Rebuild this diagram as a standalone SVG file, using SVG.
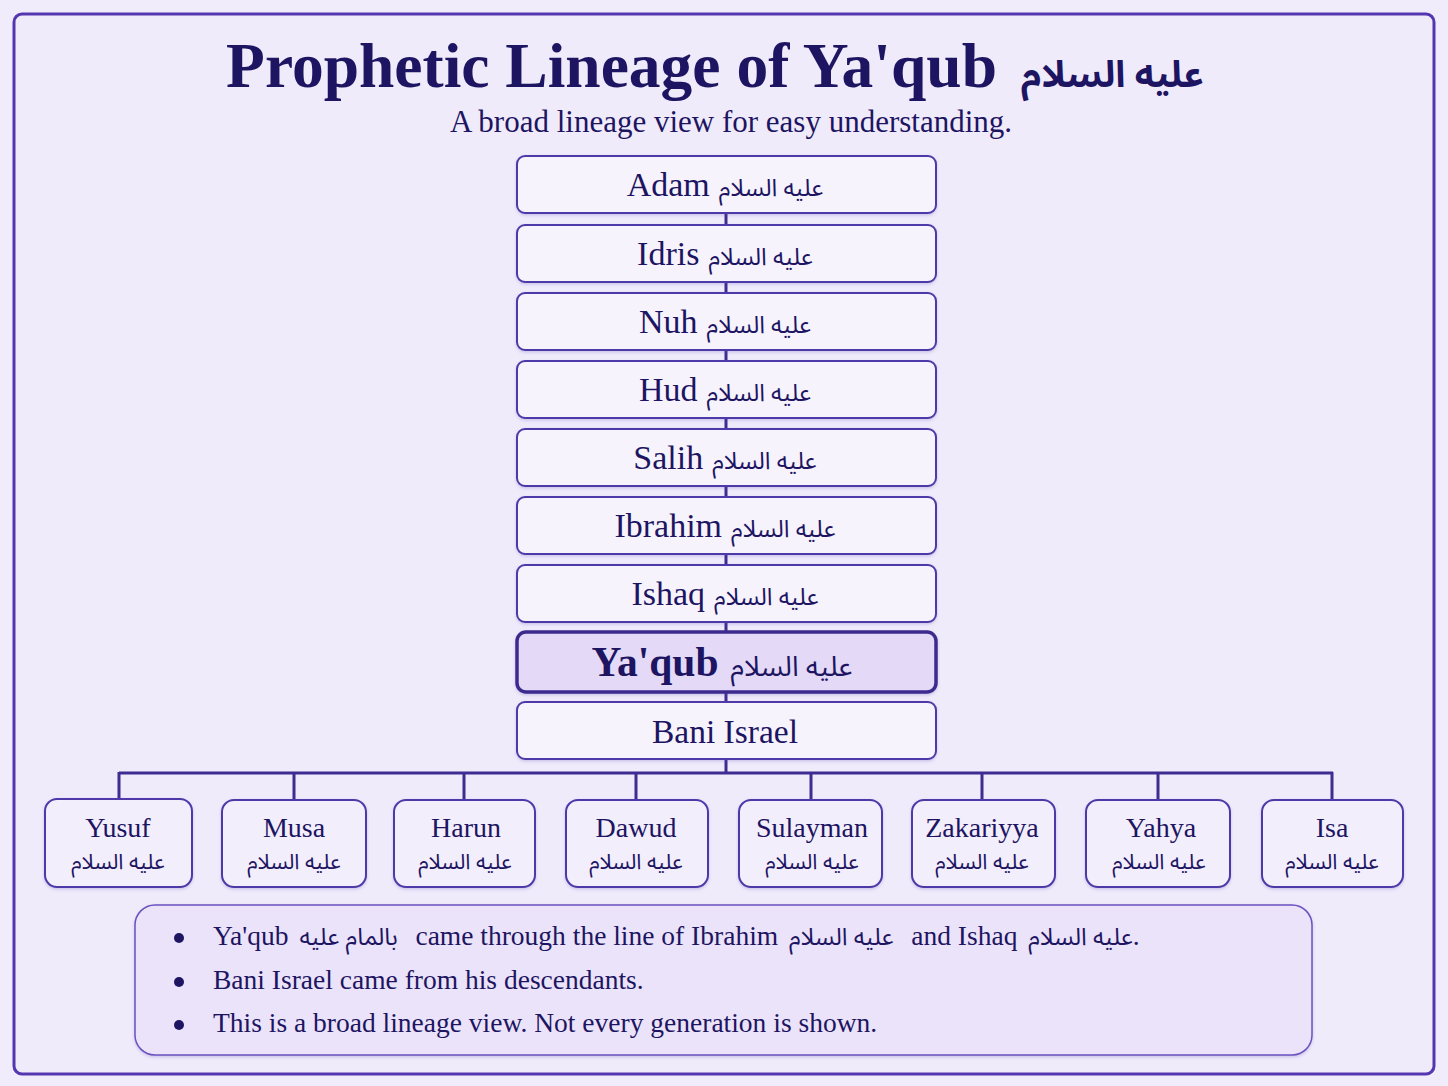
<svg xmlns="http://www.w3.org/2000/svg" width="1448" height="1086" viewBox="0 0 1448 1086">
<defs>
<filter id="sh" x="-10%" y="-20%" width="120%" height="150%"><feDropShadow dx="0" dy="1.5" stdDeviation="1.5" flood-color="#5a43b0" flood-opacity="0.25"/></filter>
</defs>
<style>
.en{font-family:"Liberation Serif","Times New Roman",serif;fill:#1d1562}
.ar{font-family:"Noto Sans Arabic","DejaVu Sans",sans-serif;fill:#1d1562}
.node{fill:#f6f3fd;stroke:#4f39a8;stroke-width:2;filter:url(#sh)}
.hl{fill:#e4daf7;stroke:#3d2a8e;stroke-width:3.5;filter:url(#sh)}
.child{fill:#f3eefc;stroke:#4f39a8;stroke-width:2;filter:url(#sh)}
.conn{stroke:#3f2c92;stroke-width:3;fill:none}
</style>
<rect x="0" y="0" width="1448" height="1086" fill="#f1ecfb"/>
<rect x="14" y="14" width="1420" height="1060" rx="8" fill="#f0ebfb" stroke="#5436b0" stroke-width="3"/>
<g id="title">
<text x="715" y="87" text-anchor="middle"><tspan class="en" font-size="63.5" font-weight="bold">Prophetic Lineage of Ya'qub</tspan><tspan class="ar" font-size="37" font-weight="bold" dx="24">عليه السلام</tspan></text>
<text class="en" x="731" y="132" text-anchor="middle" font-size="31">A broad lineage view for easy understanding.</text>
</g>
<g id="connectors">
<path class="conn" d="M726 213V225M726 282V293M726 350V361M726 418V429M726 486V497M726 554V565M726 622V632M726 692V702M726 759V773"/>
<path class="conn" d="M119 773H1333M119 772V799M294 772V800M464 772V800M636 772V800M811 772V800M982 772V800M1158 772V800M1332 772V800"/>
</g>
<g id="n-adam"><rect class="node" x="517" y="156" width="419" height="57" rx="8"/><text x="725" y="196" text-anchor="middle"><tspan class="en" font-size="34">Adam</tspan><tspan class="ar" font-size="24" dx="9">عليه السلام</tspan></text></g>
<g id="n-idris"><rect class="node" x="517" y="225" width="419" height="57" rx="8"/><text x="725" y="265" text-anchor="middle"><tspan class="en" font-size="34">Idris</tspan><tspan class="ar" font-size="24" dx="9">عليه السلام</tspan></text></g>
<g id="n-nuh"><rect class="node" x="517" y="293" width="419" height="57" rx="8"/><text x="725" y="333" text-anchor="middle"><tspan class="en" font-size="34">Nuh</tspan><tspan class="ar" font-size="24" dx="9">عليه السلام</tspan></text></g>
<g id="n-hud"><rect class="node" x="517" y="361" width="419" height="57" rx="8"/><text x="725" y="401" text-anchor="middle"><tspan class="en" font-size="34">Hud</tspan><tspan class="ar" font-size="24" dx="9">عليه السلام</tspan></text></g>
<g id="n-salih"><rect class="node" x="517" y="429" width="419" height="57" rx="8"/><text x="725" y="469" text-anchor="middle"><tspan class="en" font-size="34">Salih</tspan><tspan class="ar" font-size="24" dx="9">عليه السلام</tspan></text></g>
<g id="n-ibrahim"><rect class="node" x="517" y="497" width="419" height="57" rx="8"/><text x="725" y="537" text-anchor="middle"><tspan class="en" font-size="34">Ibrahim</tspan><tspan class="ar" font-size="24" dx="9">عليه السلام</tspan></text></g>
<g id="n-ishaq"><rect class="node" x="517" y="565" width="419" height="57" rx="8"/><text x="725" y="605" text-anchor="middle"><tspan class="en" font-size="34">Ishaq</tspan><tspan class="ar" font-size="24" dx="9">عليه السلام</tspan></text></g>
<g id="n-yaqub"><rect class="hl" x="517" y="632" width="419" height="60" rx="9"/><text x="722" y="676" text-anchor="middle"><tspan class="en" font-size="41.5" font-weight="bold">Ya'qub</tspan><tspan class="ar" font-size="28" dx="12">عليه السلام</tspan></text></g>
<g id="n-bani"><rect class="node" x="517" y="702" width="419" height="57" rx="8"/><text class="en" x="725" y="743" text-anchor="middle" font-size="33.5">Bani Israel</text></g>
<g id="c-yusuf"><rect class="child" x="45" y="799" width="147" height="88" rx="12"/><text class="en" x="118" y="837" text-anchor="middle" font-size="28">Yusuf</text><text class="ar" x="118" y="869" text-anchor="middle" font-size="21.5">عليه السلام</text></g>
<g id="c-musa"><rect class="child" x="222" y="800" width="144" height="87" rx="12"/><text class="en" x="294" y="837" text-anchor="middle" font-size="28">Musa</text><text class="ar" x="294" y="869" text-anchor="middle" font-size="21.5">عليه السلام</text></g>
<g id="c-harun"><rect class="child" x="394" y="800" width="141" height="87" rx="12"/><text class="en" x="466" y="837" text-anchor="middle" font-size="28">Harun</text><text class="ar" x="465" y="869" text-anchor="middle" font-size="21.5">عليه السلام</text></g>
<g id="c-dawud"><rect class="child" x="566" y="800" width="142" height="87" rx="12"/><text class="en" x="636" y="837" text-anchor="middle" font-size="28">Dawud</text><text class="ar" x="636" y="869" text-anchor="middle" font-size="21.5">عليه السلام</text></g>
<g id="c-sulayman"><rect class="child" x="739" y="800" width="143" height="87" rx="12"/><text class="en" x="812" y="837" text-anchor="middle" font-size="28">Sulayman</text><text class="ar" x="812" y="869" text-anchor="middle" font-size="21.5">عليه السلام</text></g>
<g id="c-zakariyya"><rect class="child" x="912" y="800" width="143" height="87" rx="12"/><text class="en" x="982" y="837" text-anchor="middle" font-size="28">Zakariyya</text><text class="ar" x="982" y="869" text-anchor="middle" font-size="21.5">عليه السلام</text></g>
<g id="c-yahya"><rect class="child" x="1086" y="800" width="144" height="87" rx="12"/><text class="en" x="1161" y="837" text-anchor="middle" font-size="28">Yahya</text><text class="ar" x="1159" y="869" text-anchor="middle" font-size="21.5">عليه السلام</text></g>
<g id="c-isa"><rect class="child" x="1262" y="800" width="141" height="87" rx="12"/><text class="en" x="1332" y="837" text-anchor="middle" font-size="28">Isa</text><text class="ar" x="1332" y="869" text-anchor="middle" font-size="21.5">عليه السلام</text></g>
<g id="notes">
<rect x="135" y="905" width="1177" height="150" rx="20" fill="#ebe3f9" stroke="#6a52c0" stroke-width="1.5" filter="url(#sh)"/>
<circle cx="179" cy="938" r="5" fill="#1d1562"/>
<circle cx="179" cy="982" r="5" fill="#1d1562"/>
<circle cx="179" cy="1025" r="5" fill="#1d1562"/>
<text x="213" y="945" xml:space="preserve"><tspan class="en" font-size="27.5">Ya'qub </tspan><tspan class="ar" font-size="24" dx="4">بالمام عليه</tspan><tspan class="en" font-size="27.5" dx="4">  came through the line of Ibrahim </tspan><tspan class="ar" font-size="24" dx="4">عليه السلام</tspan><tspan class="en" font-size="27.5" dx="4">  and Ishaq </tspan><tspan class="ar" font-size="24" dx="4">عليه السلام</tspan><tspan class="en" font-size="27.5">.</tspan></text>
<text class="en" x="213" y="989" font-size="27.5">Bani Israel came from his descendants.</text>
<text class="en" x="213" y="1032" font-size="27.5">This is a broad lineage view. Not every generation is shown.</text>
</g>
</svg>
